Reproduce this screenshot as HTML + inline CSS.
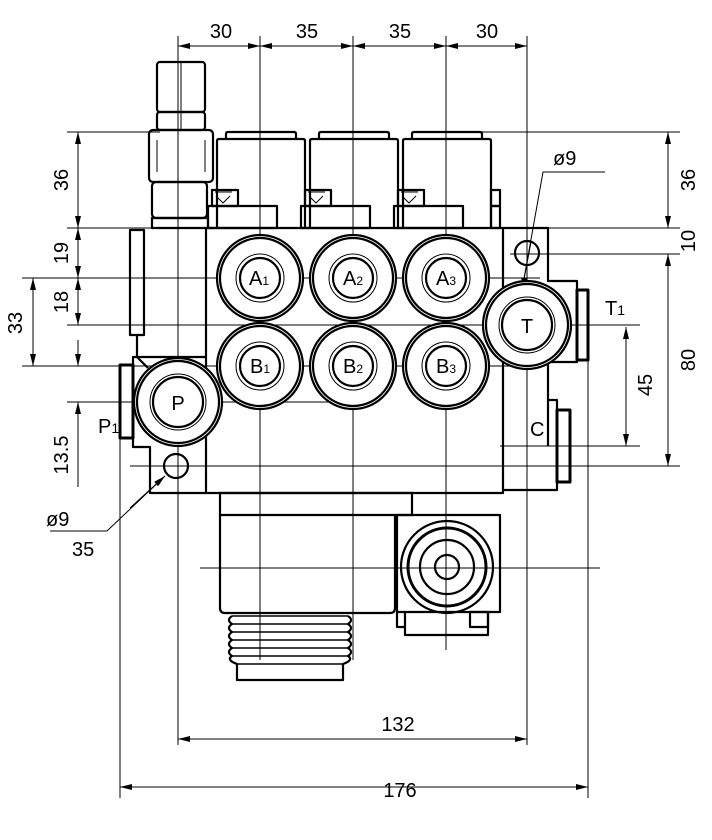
<!DOCTYPE html>
<html><head><meta charset="utf-8"><style>
html,body{margin:0;padding:0;background:#fff;}
svg{display:block;}
text{font-family:"Liberation Sans Narrow","Liberation Sans",sans-serif;font-size:20px;fill:#000;}
</style></head><body>
<svg width="712" height="840" viewBox="0 0 712 840" xmlns="http://www.w3.org/2000/svg">
<defs>
<marker id="a" viewBox="0 0 12 6" refX="12" refY="3" markerWidth="12" markerHeight="6" markerUnits="userSpaceOnUse" orient="auto-start-reverse"><path d="M0,0 L12,3 L0,6 z" fill="#000"/></marker>
</defs>
<g stroke="#000" stroke-width="1" fill="none">
<!-- thin centre / extension lines -->
<line x1="178" y1="36" x2="178" y2="745"/>
<line x1="260" y1="36" x2="260" y2="660"/>
<line x1="353" y1="36" x2="353" y2="660"/>
<line x1="446" y1="36" x2="446" y2="650"/>
<line x1="527" y1="36" x2="527" y2="745"/>
<line x1="120" y1="365" x2="120" y2="798"/>
<line x1="588" y1="300" x2="588" y2="798"/>
<line x1="67" y1="132" x2="160" y2="132"/>
<line x1="67" y1="228" x2="206" y2="228"/>
<line x1="22" y1="278" x2="540" y2="278"/>
<line x1="67" y1="325" x2="640" y2="325"/>
<line x1="22" y1="366" x2="520" y2="366"/>
<line x1="67" y1="402" x2="330" y2="402"/>
<line x1="130" y1="466" x2="680" y2="466"/>
<line x1="470" y1="132" x2="680" y2="132"/>
<line x1="500" y1="228" x2="680" y2="228"/>
<line x1="510" y1="254" x2="680" y2="254"/>
<line x1="500" y1="446" x2="640" y2="446"/>
<line x1="200" y1="568" x2="600" y2="568"/>
<!-- dimension lines -->
<line x1="178" y1="46" x2="260" y2="46" marker-start="url(#a)" marker-end="url(#a)"/>
<line x1="260" y1="46" x2="353" y2="46" marker-start="url(#a)" marker-end="url(#a)"/>
<line x1="353" y1="46" x2="446" y2="46" marker-start="url(#a)" marker-end="url(#a)"/>
<line x1="446" y1="46" x2="527" y2="46" marker-start="url(#a)" marker-end="url(#a)"/>
<line x1="178" y1="739" x2="527" y2="739" marker-start="url(#a)" marker-end="url(#a)"/>
<line x1="120" y1="787" x2="588" y2="787" marker-start="url(#a)" marker-end="url(#a)"/>
<line x1="78" y1="132" x2="78" y2="228" marker-start="url(#a)" marker-end="url(#a)"/>
<line x1="78" y1="228" x2="78" y2="278" marker-start="url(#a)" marker-end="url(#a)"/>
<line x1="78" y1="278" x2="78" y2="325" marker-start="url(#a)" marker-end="url(#a)"/>
<line x1="33" y1="278" x2="33" y2="366" marker-start="url(#a)" marker-end="url(#a)"/>
<line x1="78" y1="340" x2="78" y2="366" marker-end="url(#a)"/>
<line x1="78" y1="487" x2="78" y2="402" marker-end="url(#a)"/>
<line x1="668" y1="132" x2="668" y2="228" marker-start="url(#a)" marker-end="url(#a)"/>
<line x1="668" y1="254" x2="668" y2="466" marker-start="url(#a)" marker-end="url(#a)"/>
<line x1="626" y1="327" x2="626" y2="446" marker-start="url(#a)" marker-end="url(#a)"/>
<!-- leaders -->
<polyline points="605,172 543,172 522,290"/>
<line x1="531" y1="242" x2="522" y2="290" marker-end="url(#a)"/>
<polyline points="50,531 107,531 165,476" />
<line x1="130" y1="508" x2="165" y2="476" marker-end="url(#a)"/>
</g>

<!-- thick outlines -->
<g stroke="#000" stroke-width="2.2" fill="none" stroke-linejoin="round">
<!-- hex nuts -->
<rect x="157" y="62" width="48" height="50" rx="3"/>
<rect x="157" y="112" width="48" height="18" rx="3"/>
<rect x="149" y="130" width="64" height="52" rx="4"/>
<rect x="152" y="182" width="55" height="36" rx="4"/>
<rect x="152" y="218" width="56" height="10"/>
<line x1="181" y1="62" x2="181" y2="130" stroke-width="1"/>
<line x1="157" y1="140" x2="157" y2="172" stroke-width="1"/>
<line x1="205" y1="140" x2="205" y2="172" stroke-width="1"/>
<!-- caps -->
<g id="cap">
<path d="M226,139 V134 Q226,132 228,132 H294 Q296,132 296,134 V139"/>
<path d="M217,228 V141 Q217,139 219,139 H303 Q305,139 305,141 V228"/>
<rect x="208" y="206" width="69" height="22"/>
<rect x="212" y="190" width="26" height="16"/>
<path d="M215,192 H232 M216,196 L223,203 L230,196" stroke-width="1"/>
</g>
<use href="#cap" x="93"/>
<use href="#cap" x="186"/>
<rect x="491" y="190" width="9" height="16"/>
<rect x="491" y="206" width="9" height="22"/>
<!-- main body -->
<rect x="206" y="228" width="297" height="265"/>
<path d="M503,228 H548 V281 H577 V362 H548 V400 H557 V490 H503"/>
<line x1="548" y1="400" x2="548" y2="446"/>
<rect x="577" y="290" width="11" height="70" stroke-width="3"/>
<rect x="557" y="410" width="13" height="72" stroke-width="3"/>
<!-- left side -->
<path d="M206,357 H133 V447 H150 V493 H206"/>
<rect x="120" y="365" width="13" height="73" stroke-width="3"/>
<rect x="130" y="230" width="14" height="105"/>
<path d="M137,335 V357 L148,368"/>
<!-- ports -->
<g fill="#fff">
<circle cx="260" cy="278" r="43"/><circle cx="353" cy="278" r="43"/><circle cx="446" cy="278" r="43"/>
<circle cx="260" cy="366" r="43"/><circle cx="353" cy="366" r="43"/><circle cx="446" cy="366" r="43"/>
<circle cx="527" cy="325" r="44"/><circle cx="178" cy="402" r="44"/>
</g>
<circle cx="260" cy="278" r="40"/><circle cx="353" cy="278" r="40"/><circle cx="446" cy="278" r="40"/>
<circle cx="260" cy="366" r="40"/><circle cx="353" cy="366" r="40"/><circle cx="446" cy="366" r="40"/>
<circle cx="527" cy="325" r="41"/><circle cx="178" cy="402" r="41"/>
<circle cx="260" cy="278" r="20"/><circle cx="353" cy="278" r="20"/><circle cx="446" cy="278" r="20"/>
<circle cx="260" cy="366" r="20"/><circle cx="353" cy="366" r="20"/><circle cx="446" cy="366" r="20"/>
<circle cx="527" cy="325" r="25"/><circle cx="178" cy="402" r="25"/>
<g stroke-width="1">
<circle cx="260" cy="278" r="24"/><circle cx="353" cy="278" r="24"/><circle cx="446" cy="278" r="24"/>
<circle cx="260" cy="366" r="24"/><circle cx="353" cy="366" r="24"/><circle cx="446" cy="366" r="24"/>
<circle cx="527" cy="325" r="28"/><circle cx="178" cy="402" r="28"/>
</g>
<circle cx="176" cy="466" r="12"/>
<circle cx="527" cy="253" r="12"/>
<!-- bottom solenoid -->
<rect x="220" y="493" width="192" height="22"/>
<path d="M220,515 V608 Q220,613 225,613 H390 Q395,613 395,608 V515"/>
<path d="M232,616 Q226,620 232,624 Q226,628 232,632 Q226,636 232,640 Q226,644 232,648 Q226,652 232,656 Q226,660 237,664 V680 H343 V664 Q354,660 348,656 Q354,652 348,648 Q354,644 348,640 Q354,636 348,632 Q354,628 348,624 Q354,620 348,616"/>
<g stroke-width="1.5">
<line x1="232" y1="616" x2="348" y2="616"/><line x1="232" y1="624" x2="348" y2="624"/><line x1="232" y1="632" x2="348" y2="632"/><line x1="232" y1="640" x2="348" y2="640"/><line x1="232" y1="648" x2="348" y2="648"/><line x1="232" y1="656" x2="348" y2="656"/><line x1="237" y1="664" x2="343" y2="664"/>
</g>
<rect x="397" y="515" width="103" height="97"/>
<circle cx="447" cy="567" r="46"/>
<circle cx="447" cy="567" r="39" stroke-width="3"/>
<circle cx="447" cy="567" r="27"/>
<circle cx="447" cy="567" r="12"/>
<path d="M405,612 V635 H488 V612"/>
<path d="M397,612 V627 H405"/>
<rect x="470" y="612" width="18" height="15"/>
</g>

<!-- labels -->
<g>
<text x="221" y="38" text-anchor="middle">30</text>
<text x="307" y="38" text-anchor="middle">35</text>
<text x="400" y="38" text-anchor="middle">35</text>
<text x="487" y="38" text-anchor="middle">30</text>
<text x="398" y="731" text-anchor="middle">132</text>
<text x="400" y="797" text-anchor="middle">176</text>
<text transform="translate(68,180) rotate(-90)" text-anchor="middle">36</text>
<text transform="translate(68,253) rotate(-90)" text-anchor="middle">19</text>
<text transform="translate(68,302) rotate(-90)" text-anchor="middle">18</text>
<text transform="translate(22,323) rotate(-90)" text-anchor="middle">33</text>
<text transform="translate(68,455) rotate(-90)" text-anchor="middle">13.5</text>
<text transform="translate(695,180) rotate(-90)" text-anchor="middle">36</text>
<text transform="translate(695,241) rotate(-90)" text-anchor="middle">10</text>
<text transform="translate(695,360) rotate(-90)" text-anchor="middle">80</text>
<text transform="translate(652,385) rotate(-90)" text-anchor="middle">45</text>
<text x="553" y="165">ø9</text>
<text x="46" y="526">ø9</text>
<text x="72" y="556">35</text>
<text x="98" y="433">P<tspan font-size="14">1</tspan></text>
<text x="605" y="315">T<tspan font-size="14">1</tspan></text>
<text x="530" y="436">C</text>
<text x="249" y="285" font-size="16">A<tspan font-size="12">1</tspan></text>
<text x="343" y="285" font-size="16">A<tspan font-size="12">2</tspan></text>
<text x="436" y="285" font-size="16">A<tspan font-size="12">3</tspan></text>
<text x="250" y="373" font-size="16">B<tspan font-size="12">1</tspan></text>
<text x="343" y="373" font-size="16">B<tspan font-size="12">2</tspan></text>
<text x="436" y="373" font-size="16">B<tspan font-size="12">3</tspan></text>
<text x="527" y="333" text-anchor="middle" font-size="22">T</text>
<text x="178" y="410" text-anchor="middle" font-size="22">P</text>
</g>
</svg>
</body></html>
